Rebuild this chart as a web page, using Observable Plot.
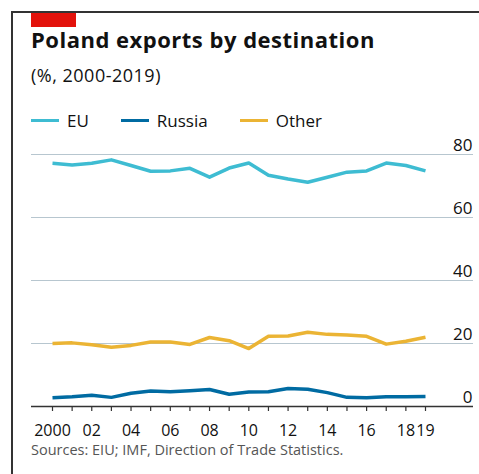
<!DOCTYPE html>
<html>
<head>
<meta charset="utf-8">
<script src="https://cdn.jsdelivr.net/npm/d3@7"></script>
<script src="https://cdn.jsdelivr.net/npm/@observablehq/plot@0.6"></script>
<style>
  html, body { margin: 0; padding: 0; background: #fff; }
  body { width: 479px; height: 474px; position: relative; overflow: hidden; font-family: "Open Sans", sans-serif; }
  #frame { position: absolute; left: 11px; top: 11px; right: 0; bottom: 0; border-left: 2px solid #333; border-top: 2px solid #333; }
  #redbar { position: absolute; left: 31px; top: 13px; width: 45px; height: 14px; background: #E3120B; }
  #title { position: absolute; left: 31px; top: 24px; font-size: 22px; font-weight: 700; color: #111; white-space: nowrap; letter-spacing: 0.5px; }
  #subtitle { position: absolute; left: 31px; top: 63px; font-size: 18px; color: #111; white-space: nowrap; letter-spacing: 0.5px; }
  #legend { position: absolute; left: 31px; top: 109px; font-size: 17px; color: #111; white-space: nowrap; display: flex; align-items: center; }
  #legend .item { display: flex; align-items: center; margin-right: 32px; }
  #legend .sw { width: 28px; height: 3.5px; margin-right: 8px; }
  #chart { position: absolute; left: 0; top: 130px; }
  #source { position: absolute; left: 31px; top: 440px; font-size: 14.5px; color: #555; white-space: nowrap; }
</style>
</head>
<body>
<div id="frame"></div>
<div id="redbar"></div>
<div id="title">Poland exports by destination</div>
<div id="subtitle">(%, 2000-2019)</div>
<div id="legend"></div>
<div id="chart"></div>
<div id="source">Sources: EIU; IMF, Direction of Trade Statistics.</div>
<script>
const years = [2000,2001,2002,2003,2004,2005,2006,2007,2008,2009,2010,2011,2012,2013,2014,2015,2016,2017,2018,2019];
const euValues = [77.2,76.7,77.2,78.3,76.5,74.7,74.8,75.6,72.8,75.7,77.3,73.4,72.2,71.2,72.8,74.4,74.8,77.3,76.5,74.8];
const russiaValues = [2.8,3.1,3.6,2.9,4.2,4.9,4.7,5.0,5.4,3.9,4.6,4.7,5.7,5.5,4.4,2.9,2.8,3.1,3.1,3.2];
const otherValues = [20.0,20.2,19.6,18.8,19.4,20.5,20.5,19.7,21.9,20.9,18.4,22.3,22.4,23.6,22.9,22.7,22.3,19.8,20.7,22.0];
const seriesNames = ["EU", "Russia", "Other"];
const seriesColors = ["#3EBCD2", "#006BA2", "#EBB434"];
const yTicks = [0, 20, 40, 60, 80];
const xLabelYears = [2000,2002,2004,2006,2008,2010,2012,2014,2016,2018,2019];

const seriesValues = [euValues, russiaValues, otherValues];
const data = [];
seriesNames.forEach((name, i) => {
  years.forEach((yr, j) => data.push({series: name, year: yr, value: seriesValues[i][j]}));
});

// legend
const legend = document.getElementById("legend");
seriesNames.forEach((name, i) => {
  const item = document.createElement("div");
  item.className = "item";
  const sw = document.createElement("div");
  sw.className = "sw";
  sw.style.background = seriesColors[i];
  const t = document.createElement("span");
  t.textContent = name;
  item.appendChild(sw); item.appendChild(t);
  legend.appendChild(item);
});

const fmtYear = d => d === 2000 ? "2000" : String(d % 100).padStart(2, "0");

const chart = Plot.plot({
  width: 479,
  height: 320,
  marginTop: 24,
  marginBottom: 44,
  marginLeft: 52,
  marginRight: 54,
  style: {fontFamily: "'Open Sans', sans-serif", fontSize: "16px", color: "#111", background: "transparent", overflow: "visible"},
  x: {domain: [2000, 2019], axis: null},
  y: {domain: [0, 80], axis: null},
  color: {domain: seriesNames, range: seriesColors},
  marks: [
    Plot.ruleY(yTicks.filter(d => d !== 0), {stroke: "#B7C6CF", strokeWidth: 1, insetLeft: -21, insetRight: -48}),
    Plot.text(yTicks, {y: d => d, text: d => String(d), frameAnchor: "right", textAnchor: "end", lineAnchor: "bottom", dx: 47, dy: -4, fill: "#111", fontSize: 17}),
    Plot.axisX(years, {tickSize: 5, tickFormat: () => "", stroke: "#333", strokeWidth: 1.2, label: null}),
    Plot.axisX(xLabelYears, {tickSize: 0, tickPadding: 18, tickFormat: fmtYear, fontSize: 16, fill: "#111", label: null}),
    Plot.line(data, {x: "year", y: "value", z: "series", stroke: "series", strokeWidth: 3.5, strokeLinejoin: "round", strokeLinecap: "butt"}),
    Plot.ruleY([0], {stroke: "#333", strokeWidth: 1.5, insetLeft: -21, insetRight: -48})
  ]
});
document.getElementById("chart").appendChild(chart);
</script>
</body>
</html>
